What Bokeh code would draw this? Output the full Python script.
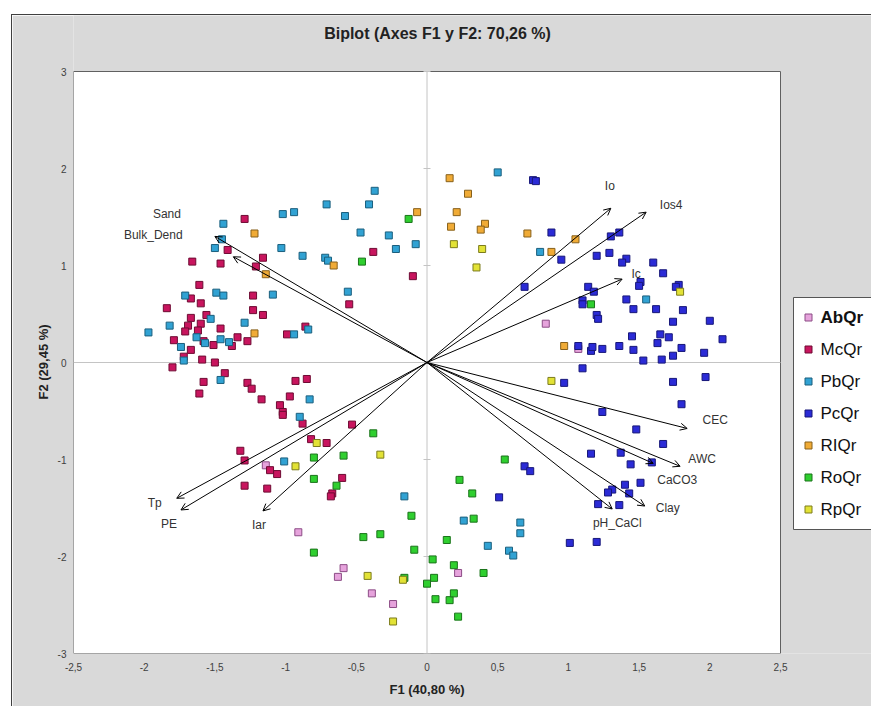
from bokeh.plotting import figure
from bokeh.models import (ColumnDataSource, Arrow, OpenHead, FixedTicker, Range1d,
                          CustomJSTickFormatter, Title)
from bokeh.core.properties import value
from bokeh.embed import file_html
from bokeh.resources import INLINE

FONT = "Liberation Sans"

# ---------------- data (F1, F2 scores) ----------------
title_text = "Biplot (Axes F1 y F2: 70,26 %)"
x_title = "F1 (40,80 %)"
y_title = "F2 (29,45 %)"
groups = ["AbQr", "McQr", "PbQr", "PcQr", "RIQr", "RoQr", "RpQr"]

abqr_f1 = [0.84, 1.07, -1.14, -0.91, -0.59, -0.63, -0.39, -0.24, 0.22]
abqr_f2 = [0.40, 0.14, -1.06, -1.75, -2.12, -2.21, -2.38, -2.49, -2.17]

mcqr_f1 = [-1.29, -1.41, -1.66, -1.46, -1.16, -1.21, -0.38, -0.10, -1.61, -1.67, -1.60, -1.23,
           -0.55, -1.84, -1.67, -1.56, -1.23, -1.16, -1.69, -1.60, -1.71, -1.62, -1.46, -0.86,
           -1.79, -1.58, -1.51, -1.38, -1.34, -1.27, -0.99, -1.67, -1.72, -1.59, -1.50, -1.80,
           -1.43, -1.58, -1.61, -1.27, -1.24, -1.17, -0.93, -0.85, -0.97, -1.04, -1.02, -1.02,
           -0.88, -0.53, -0.82, -0.71, -1.32, -1.29, -1.11, -1.06, -0.60, -0.67, -0.68, -1.29,
           -1.13]
mcqr_f2 = [1.48, 1.16, 1.04, 1.02, 1.08, 0.99, 1.14, 0.89, 0.80, 0.66, 0.61, 0.69,
           0.60, 0.56, 0.46, 0.49, 0.54, 0.49, 0.38, 0.40, 0.32, 0.33, 0.35, 0.37,
           0.23, 0.22, 0.18, 0.17, 0.26, 0.22, 0.29, 0.13, 0.06, 0.03, 0.00, -0.05,
           -0.11, -0.20, -0.32, -0.21, -0.27, -0.38, -0.19, -0.17, -0.35, -0.44, -0.51, -0.54,
           -0.63, -0.64, -0.79, -0.83, -0.91, -1.01, -1.11, -1.15, -1.19, -1.35, -1.38, -1.27,
           -1.30]

pbqr_f1 = [-1.44, -1.02, -0.94, -0.71, -0.58, -0.41, -0.37, -1.45, -1.50, -1.03, -0.88, -0.72,
           -0.70, -0.47, -0.27, -0.22, -0.08, -1.71, -1.49, -1.44, -1.09, -0.56, -1.53, -1.82,
           -1.29, -1.97, -0.84, -1.63, -1.57, -1.46, -1.40, -0.94, -1.74, -1.72, -1.46, -0.83,
           -0.90, -1.01, -0.16, 0.50, 0.80, 1.55, 0.26, 0.66, 0.66, 0.43, 0.58, 0.61]
pbqr_f2 = [1.43, 1.53, 1.55, 1.63, 1.51, 1.63, 1.77, 1.27, 1.18, 1.18, 1.10, 1.08,
           1.05, 1.34, 1.31, 1.17, 1.22, 0.69, 0.72, 0.69, 0.70, 0.73, 0.45, 0.38,
           0.41, 0.31, 0.34, 0.26, 0.20, 0.24, 0.21, 0.29, 0.16, 0.02, -0.18, -0.38,
           -0.56, -1.02, -1.38, 1.96, 1.14, 0.65, -1.63, -1.65, -1.76, -1.89, -1.94, -1.99]

pcqr_f1 = [0.75, 0.77, 0.88, 1.30, 1.36, 0.95, 1.20, 1.29, 1.41, 1.38, 1.60, 1.67,
           0.69, 1.14, 1.18, 1.51, 1.50, 1.78, 1.76, 1.10, 1.10, 1.41, 1.46, 1.62,
           1.81, 1.20, 1.21, 2.00, 1.74, 1.45, 1.65, 1.71, 2.09, 1.63, 1.07, 1.16,
           1.17, 1.24, 1.36, 1.46, 1.80, 1.96, 1.53, 1.66, 1.74, 1.10, 0.97, 1.74,
           1.97, 1.80, 1.24, 1.48, 1.67, 1.16, 1.37, 1.44, 1.59, 0.69, 0.73, 0.51,
           1.40, 1.51, 1.31, 1.28, 1.43, 1.21, 1.36, 1.01, 1.20]
pcqr_f2 = [1.88, 1.87, 1.34, 1.30, 1.34, 1.06, 1.10, 1.13, 1.07, 1.03, 1.03, 0.92,
           0.78, 0.78, 0.73, 0.83, 0.79, 0.80, 0.78, 0.64, 0.60, 0.65, 0.55, 0.55,
           0.54, 0.49, 0.45, 0.43, 0.42, 0.27, 0.29, 0.26, 0.24, 0.20, 0.17, 0.12,
           0.16, 0.14, 0.17, 0.13, 0.15, 0.10, 0.02, 0.03, 0.07, -0.06, -0.21, -0.20,
           -0.15, -0.43, -0.51, -0.69, -0.84, -0.94, -0.93, -1.05, -1.03, -1.07, -1.12, -1.39,
           -1.26, -1.24, -1.31, -1.34, -1.35, -1.46, -1.47, -1.86, -1.85]

riqr_f1 = [-1.22, -0.07, -1.14, -0.66, -1.22, 0.16, 0.29, 0.21, 0.17, 0.41, 0.38, 0.71,
           1.05, 0.88, 0.97]
riqr_f2 = [1.33, 1.55, 0.91, 1.00, 0.30, 1.90, 1.74, 1.55, 1.40, 1.43, 1.37, 1.33,
           1.27, 1.14, 0.17]

roqr_f1 = [-0.13, -0.46, 1.16, -0.38, -0.80, -0.59, -0.80, -0.64, -0.11, -0.45, -0.33, -0.09,
           -0.80, -0.16, 0.04, 0.05, 0.00, 0.06, 0.14, 0.16, 0.55, 0.23, 0.32, 0.33,
           0.19, 0.40, 0.19, 0.22]
roqr_f2 = [1.48, 1.04, 0.60, -0.73, -0.98, -0.96, -1.20, -1.27, -1.58, -1.80, -1.77, -1.93,
           -1.96, -2.22, -2.03, -2.22, -2.28, -2.44, -1.83, -2.45, -1.00, -1.21, -1.35, -1.61,
           -2.09, -2.17, -2.38, -2.62]

rpqr_f1 = [0.19, 0.39, 0.35, 1.79, 0.88, -0.78, -0.33, -0.93, -0.42, -0.17, -0.24]
rpqr_f2 = [1.22, 1.17, 0.98, 0.73, -0.19, -0.83, -0.95, -1.07, -2.20, -2.24, -2.67]

# variable loadings (arrow tips)
var_names = ["Sand", "Bulk_Dend", "Tp", "PE", "Iar", "Io", "Ios4", "Ic",
             "CEC", "AWC", "CaCO3", "Clay", "pH_CaCl"]
var_f1 = [-1.50, -1.37, -1.77, -1.74, -1.16, 1.30, 1.55, 1.38, 1.84, 1.79, 1.60, 1.54, 1.31]
var_f2 = [1.30, 1.09, -1.40, -1.52, -1.53, 1.59, 1.55, 0.86, -0.68, -1.07, -1.04, -1.48, -1.51]

x_ticks = [-2.5, -2, -1.5, -1, -0.5, 0, 0.5, 1, 1.5, 2, 2.5]
y_ticks = [-3, -2, -1, 0, 1, 2, 3]

# ---------------- styles / layout (pixels) ----------------
fills = ["#e6a3dc", "#c8155e", "#31a2d3", "#2b2bd6", "#f0ab36", "#2fcf2f", "#e2e236"]
edges = ["#8c4c86", "#6e0b33", "#1b5f7d", "#171779", "#87601b", "#1a731a", "#7c7c1c"]
lab_dx = [-48, -80, -22, -12, -4, -1, 25, 14, 28, 22, 24, 23, 5]
lab_dy = [-22, -22, 5, 14, 14, -22, -7, -5, -8, -7, 17, 2, 14]
GRAY = "#d9d9d9"
BORDER = "1px solid #404040"
W, H = 860, 692                 # canvas, placed at page (12, 15)
ML, MB = 61, 54                 # left / bottom borders; frame reaches top and right edges
PLOT_W, PLOT_H = 707, 582       # white plotting box inside the frame (below the title strip)
TOP_STRIP = 56

x_lo, x_hi = x_ticks[0], x_ticks[-1]
y_lo, y_hi = y_ticks[0], y_ticks[-1]
XS = PLOT_W / (x_hi - x_lo)     # px per unit
YS = PLOT_H / (y_hi - y_lo)
frame_w, frame_h = W - ML, H - MB


def fx(px):   # canvas pixel (from frame left) -> data x
    return x_lo + px / XS


def fy(py):   # canvas pixel (from canvas top) -> data y
    return y_lo + (frame_h - py) / YS


series = [(abqr_f1, abqr_f2), (mcqr_f1, mcqr_f2), (pbqr_f1, pbqr_f2), (pcqr_f1, pcqr_f2),
          (riqr_f1, riqr_f2), (roqr_f1, roqr_f2), (rpqr_f1, rpqr_f2)]

p = figure(width=W, height=H,
           x_range=Range1d(x_lo, x_lo + frame_w / XS), y_range=Range1d(y_lo, y_lo + frame_h / YS),
           output_backend="svg", toolbar_location=None,
           min_border_left=ML, min_border_right=0, min_border_top=0, min_border_bottom=MB,
           background_fill_color=GRAY, border_fill_color=GRAY, outline_line_color=None,
           margin=(14, 0, 0, 11),
           styles={"border-left": BORDER, "border-top": BORDER})
p.grid.visible = False

fmt = CustomJSTickFormatter(code="return tick.toString().replace('.', ',');")
for ax, ticks in ((p.xaxis[0], x_ticks), (p.yaxis[0], y_ticks)):
    ax.ticker = FixedTicker(ticks=ticks)
    ax.formatter = fmt
    ax.axis_line_color = None
    ax.major_tick_line_color = None
    ax.minor_tick_line_color = None
    ax.major_tick_out = 0
    ax.major_tick_in = 0
    ax.minor_tick_out = 0
    ax.major_label_text_font = FONT
    ax.major_label_text_font_size = "10px"
    ax.major_label_text_color = "#404040"
p.xaxis.major_label_standoff = 9
p.yaxis.major_label_standoff = 7

tkw = dict(text_font=FONT, text_font_size="13px", text_font_style="bold", text_color="#222222")
p.add_layout(Title(text=x_title, align="left", offset=316, standoff=12, **tkw), "below")
p.add_layout(Title(text=y_title, align="left", offset=254, standoff=7, **tkw), "left")

# white plotting box with its frame
p.quad(left=[x_lo], right=[x_hi], bottom=[y_lo], top=[y_hi],
       fill_color="white", line_color="#606060", line_width=1)
# zero lines with small ticks on the vertical one
p.segment(x0=[0, x_lo], y0=[y_lo, 0], x1=[0, x_hi], y1=[y_hi, 0],
          line_color="#c4c4c4", line_width=1)
p.scatter(x=[0] * len(y_ticks), y=y_ticks, marker="dash", size=7, line_color="#c4c4c4")

# title inside the top strip
p.text(x=[fx(437 - 73)], y=[fy(33 - 15)], text=[title_text], text_font=value(FONT),
       text_font_size=value("16px"), text_font_style="bold", text_color="#222222",
       text_align="center", text_baseline="middle")

# arrows
vsrc = ColumnDataSource(dict(x0=[0.0] * len(var_f1), y0=[0.0] * len(var_f2),
                             x1=var_f1, y1=var_f2, name=var_names, dx=lab_dx, dy=lab_dy))
p.add_layout(Arrow(end=OpenHead(size=7, line_width=1, line_color="black"),
                   x_start="x0", y_start="y0", x_end="x1", y_end="y1", source=vsrc,
                   line_color="black", line_width=1))
p.text(x="x1", y="y1", text="name", x_offset="dx", y_offset="dy", source=vsrc,
       text_font=value(FONT), text_font_size=value("12px"), text_color="#333333",
       text_align="center", text_baseline="middle")

for (sx, sy), fc, ec in zip(series, fills, edges):
    p.scatter(x=sx, y=sy, marker="square", size=7, fill_color=fc, line_color=ec, line_width=1)

# legend box on the right (pixel layout converted to data units)
n = len(groups)
box_l, box_t, box_b = 793 - 73, 297 - 15, 529 - 15
first, pitch = 317 - 15, 32
p.quad(left=[fx(box_l)], right=[fx(frame_w + 40)], top=[fy(box_t)], bottom=[fy(box_b)],
       fill_color="white", line_color="#555555", line_width=1)
lsrc = ColumnDataSource(dict(
    x=[fx(808 - 73)] * n, tx=[fx(820 - 73)] * n, y=[fy(first + pitch * i) for i in range(n)],
    label=groups, fill=fills, edge=edges, style=["bold"] + ["normal"] * (n - 1)))
p.scatter(x="x", y="y", source=lsrc, marker="square", size=7,
          fill_color="fill", line_color="edge", line_width=1)
p.text(x="tx", y="y", text="label", source=lsrc, text_font=value(FONT),
       text_font_size=value("17px"), text_font_style="style", text_color="#111111",
       text_align="left", text_baseline="middle")

open("out.html", "w").write(file_html(p, INLINE))
